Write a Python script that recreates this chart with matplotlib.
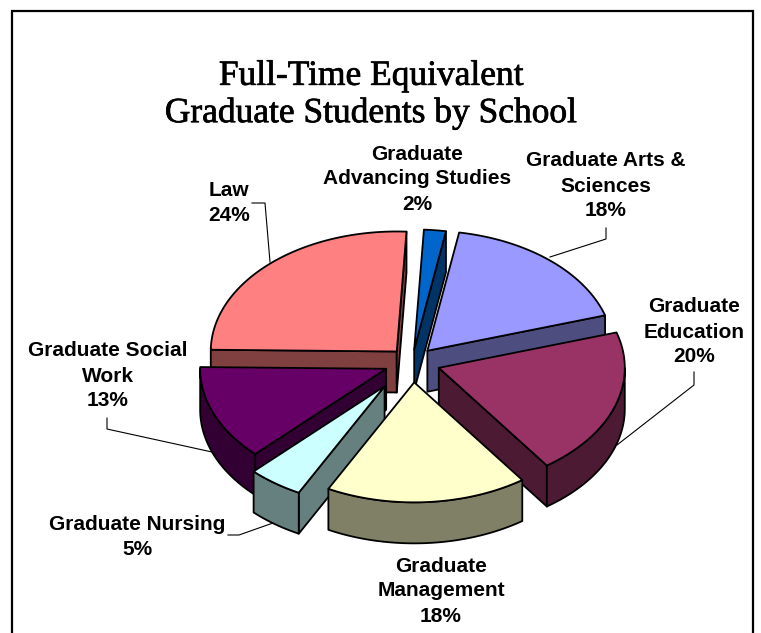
import numpy as np
import matplotlib
matplotlib.use('Agg')
import matplotlib.pyplot as plt
from matplotlib.patches import Polygon, Rectangle
import matplotlib.patheffects as pe

# shares as drawn in the picture (the printed labels are rounded and differ a bit)
schools = ['Graduate Advancing Studies', 'Graduate Arts & Sciences', 'Graduate Education',
           'Graduate Management', 'Graduate Nursing', 'Graduate Social Work', 'Law']
shares = [1.9, 17.5, 19.9, 17.5, 4.8, 12.8, 25.6]
percent_labels = ['2%', '18%', '20%', '18%', '5%', '13%', '24%']
label_lines = [['Graduate', 'Advancing Studies'], ['Graduate Arts &', 'Sciences'],
               ['Graduate', 'Education'], ['Graduate', 'Management'], ['Graduate Nursing'],
               ['Graduate Social', 'Work'], ['Law']]
explode = [0.105, 0.125, 0.152, 0.17, 0.25, 0.15, 0.12]
top_colors = ['#0066CC', '#9999FF', '#993366', '#FFFFCC', '#CCFFFF', '#660066', '#FF8080']
wall_colors = ['#003366', '#4D4D80', '#4D1A33', '#808066', '#668080', '#330033', '#804040']

# layout, in pixels
W, H = 761, 633
CX, CY = 412, 362
RX, RY = 186, 120
DEPTH = 41
START = 3.0
label_pos = [(417, 179), (606, 186), (694, 332), (441, 591), (137, 537), (108, 376), (229, 203)]
leaders = [None,
           [(550, 257), (606, 239), (606, 228)],
           [(617, 445), (694, 385), (694, 372)],
           None,
           [(228, 535), (239, 535), (273, 523)],
           [(212, 452), (107, 429), (107, 418)],
           [(252, 203), (265, 203), (270, 262)]]

fig = plt.figure(figsize=(W / 100, H / 100), dpi=100)
ax = fig.add_axes([0, 0, 1, 1])
ax.set_xlim(0, W)
ax.set_ylim(H, 0)
ax.axis('off')

ax.add_patch(Rectangle((12, 11), 741, 640, fc='white', ec='black', lw=1.6, zorder=0))


def rim(x0, y0, a, b):
    t = np.radians(np.linspace(a, b, max(int(abs(b - a)) * 2, 2)))
    return np.column_stack([x0 + RX * np.sin(t), y0 - RY * np.cos(t)])


def face(pts, color, z):
    ax.add_patch(Polygon(pts, closed=True, fc=color, ec='black', lw=1.3, joinstyle='round', zorder=z))


# start angle of every slice, clockwise from 12 o'clock
edges = START + np.cumsum([0] + shares) * 3.6
down = np.array([0, DEPTH])

# painter's order, back to front
for z, i in enumerate([6, 0, 1, 2, 5, 4, 3]):
    a, b = edges[i], edges[i + 1]
    mid = np.radians((a + b) / 2)
    x0 = CX + explode[i] * RX * np.sin(mid)
    y0 = CY - explode[i] * RY * np.cos(mid)
    apex = np.array([x0, y0])
    arc = rim(x0, y0, a, b)
    zz = z + 2
    # only the cut faces turned to the viewer
    if np.sin(np.radians(a)) < 0:
        face([apex, arc[0], arc[0] + down, apex + down], wall_colors[i], zz)
    if np.sin(np.radians(b)) > 0:
        face([apex, arc[-1], arc[-1] + down, apex + down], wall_colors[i], zz)
    # outer wall, lower half of the ellipse only
    lo, hi = max(a, 90), min(b, 270)
    if hi > lo:
        wall = rim(x0, y0, lo, hi)
        face(np.vstack([wall, (wall + down)[::-1]]), wall_colors[i], zz)
    face(np.vstack([apex, arc]), top_colors[i], zz)

for path in leaders:
    if path:
        xs, ys = zip(*path)
        ax.plot(xs, ys, color='black', lw=0.8, zorder=1)

for lines, pct, (lx, ly) in zip(label_lines, percent_labels, label_pos):
    ax.text(lx, ly, '\n'.join(lines + [pct]), ha='center', va='center', family='Liberation Sans',
            fontweight='bold', fontsize=15, linespacing=1.4, color='black', zorder=20)

ax.text(371, 95, 'Full-Time Equivalent\nGraduate Students by School', ha='center', va='center',
        family='Liberation Serif', fontsize=25.5, linespacing=1.15, color='black', zorder=20,
        path_effects=[pe.withStroke(linewidth=0.5, foreground='black')])

fig.savefig('out.png', dpi=100)
